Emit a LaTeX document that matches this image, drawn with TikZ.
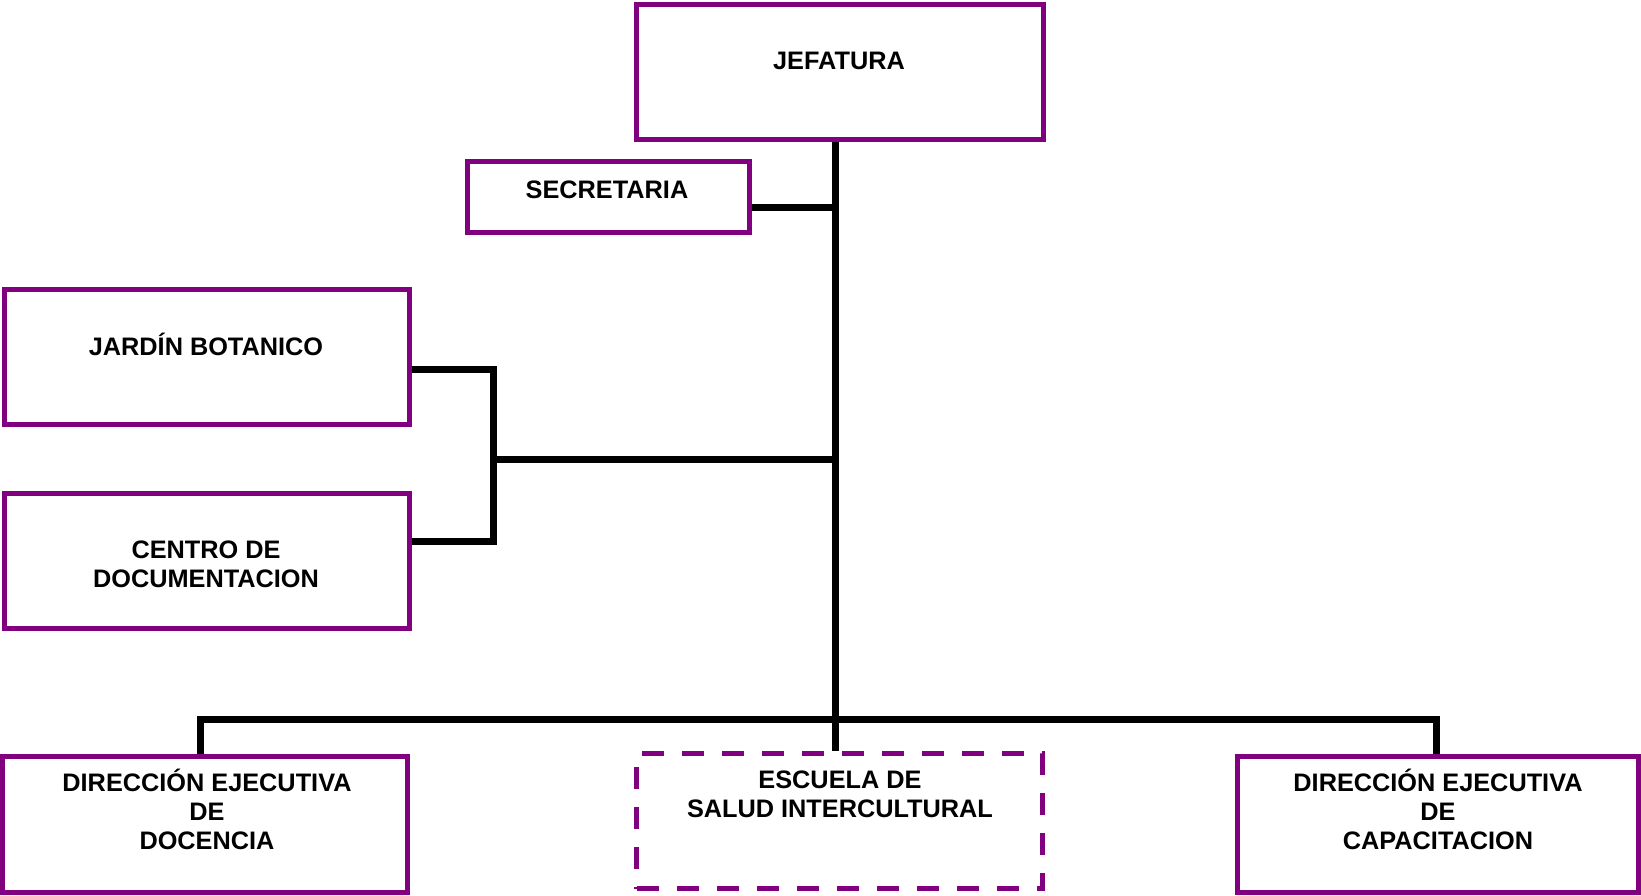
\documentclass[tikz,border=0pt]{standalone}
\usepackage{fontspec}
\setmainfont{Liberation Sans}
\usetikzlibrary{backgrounds}
\definecolor{orgpurple}{RGB}{128,0,128}
\begin{document}
\begin{tikzpicture}[x=1pt,y=-1pt,
  unitbox/.style={draw=orgpurple, line width=5pt, rectangle, inner sep=0pt},
  newunit/.style={unitbox, dash pattern=on 22pt off 18pt},
  % the base anchor of a multi-line name sits on its last line
  unitlabel/.style={font=\bfseries\fontsize{25.3}{28.7}\selectfont, align=center, inner sep=0pt, anchor=base},
  link/.style={line width=7pt, draw=black}]
\useasboundingbox (0,0) rectangle (1641,895);

% organisational units
\node[unitbox, minimum width=407pt, minimum height=135pt] (jef) at (839.5,72) {};
\node[unitbox, minimum width=282pt, minimum height=71pt] (sec) at (608.5,197) {};
\node[unitbox, minimum width=405pt, minimum height=135pt] (jar) at (207,357) {};
\node[unitbox, minimum width=405pt, minimum height=135pt] (cen) at (207,561) {};
\node[unitbox, minimum width=405pt, minimum height=136pt] (dirdoc) at (205,824.5) {};
\node[newunit, minimum width=406pt, minimum height=135pt] (esc) at (839.5,821) {};
\node[unitbox, minimum width=401pt, minimum height=136pt] (dircap) at (1438,824.5) {};

% unit names
\node[unitlabel] (jeft) at (839,69.3) {JEFATURA};
\node[unitlabel] (sect) at (607,198) {SECRETARIA};
\node[unitlabel] (jart) at (206,355) {JARDÍN BOTANICO};
\node[unitlabel] (cent) at (206,587) {CENTRO DE\\DOCUMENTACION};
\node[unitlabel] (dirdoct) at (207,849) {DIRECCIÓN EJECUTIVA\\DE\\DOCENCIA};
\node[unitlabel] (esct) at (840,817) {ESCUELA DE\\SALUD INTERCULTURAL};
\node[unitlabel] (dircapt) at (1438,849) {DIRECCIÓN EJECUTIVA\\DE\\CAPACITACION};

% junction points of the reporting lines
\coordinate (trunk) at (835,0);
\coordinate (secy) at (0,207);
\coordinate (bjar) at (493,369);
\coordinate (bcen) at (493,541);
\coordinate (bmid) at (493,459);
\coordinate (busl) at (200,719);
\coordinate (busr) at (1436,719);

\begin{scope}[on background layer]
  \draw[link] (jef.south -| trunk) -- (esc.north -| trunk);
  \draw[link] (sec.east |- secy) -- (secy -| trunk);
  \draw[link] (jar.east |- bjar) -- (bjar);
  \draw[link] (cen.east |- bcen) -- (bcen);
  \draw[link, line cap=rect] (bjar) -- (bcen);
  \draw[link] (bmid) -- (bmid -| trunk);
  \draw[link] (dirdoc.north -| busl) -- (busl) -- (busr) -- (dircap.north -| busr);
\end{scope}
\end{tikzpicture}
\end{document}
